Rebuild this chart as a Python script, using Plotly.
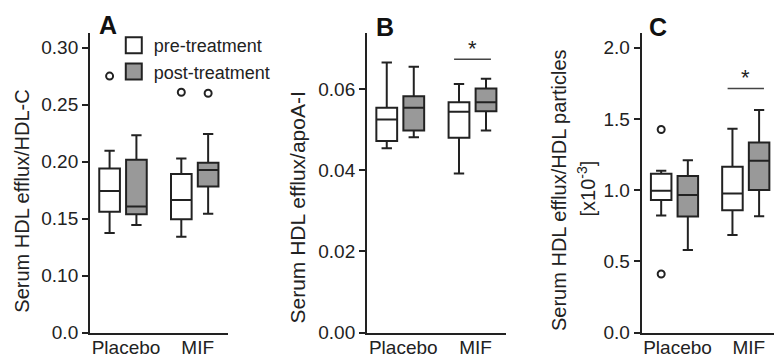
import plotly.graph_objects as go

# ---------------- data ----------------
categories = ["Placebo", "MIF"]
legend_names = ["pre-treatment", "post-treatment"]

# Panel A: Serum HDL efflux/HDL-C
A_pre_low = [0.1374, 0.1342]
A_pre_q1 = [0.1560, 0.1496]
A_pre_med = [0.1742, 0.1665]
A_pre_q3 = [0.1940, 0.1893]
A_pre_high = [0.2095, 0.2027]
A_post_low = [0.1444, 0.1543]
A_post_q1 = [0.1540, 0.1782]
A_post_med = [0.1607, 0.1928]
A_post_q3 = [0.2016, 0.1990]
A_post_high = [0.2232, 0.2243]
A_pre_out_cat = [0, 1]
A_pre_out_val = [0.2751, 0.2609]
A_post_out_cat = [1]
A_post_out_val = [0.2600]
A_tickvals = [0.05, 0.10, 0.15, 0.20, 0.25, 0.30]
A_ticktext = ["0.0", "0.10", "0.15", "0.20", "0.25", "0.30"]

# Panel B: Serum HDL efflux/apoA-I
B_pre_low = [0.0454, 0.0392]
B_pre_q1 = [0.0472, 0.0480]
B_pre_med = [0.0525, 0.0544]
B_pre_q3 = [0.0554, 0.0567]
B_pre_high = [0.0665, 0.0612]
B_post_low = [0.0481, 0.0498]
B_post_q1 = [0.0498, 0.0545]
B_post_med = [0.0554, 0.0567]
B_post_q3 = [0.0582, 0.0601]
B_post_high = [0.0655, 0.0625]
B_tickvals = [0.00, 0.02, 0.04, 0.06]
B_ticktext = ["0.00", "0.02", "0.04", "0.06"]
B_sig_cat = 1
B_sig_y = 0.0673

# Panel C: Serum HDL efflux/HDL particles [x10^-3]
C_pre_low = [0.823, 0.685]
C_pre_q1 = [0.931, 0.860]
C_pre_med = [0.996, 0.977]
C_pre_q3 = [1.115, 1.164]
C_pre_high = [1.136, 1.431]
C_post_low = [0.580, 0.818]
C_post_q1 = [0.816, 1.001]
C_post_med = [0.966, 1.206]
C_post_q3 = [1.099, 1.335]
C_post_high = [1.211, 1.562]
C_pre_out_cat = [0, 0]
C_pre_out_val = [1.426, 0.412]
C_tickvals = [0.0, 0.5, 1.0, 1.5, 2.0]
C_ticktext = ["0.0", "0.5", "1.0", "1.5", "2.0"]
C_sig_cat = 1
C_sig_y = 1.714

# ---------------- style ----------------
FONT = "Liberation Sans, Arial, sans-serif"
INK = "#222222"
GRAY = "#999999"
OFF = 0.187      # half distance between pre/post boxes
BOXW = 0.288     # box width (category units)

fig = go.Figure()


def add_panel(n, pre, post, pre_out=None, post_out=None):
    xa = "x" if n == 1 else f"x{n}"
    ya = "y" if n == 1 else f"y{n}"
    for stats, off, fill in ((pre, -OFF, "white"), (post, OFF, GRAY)):
        low, q1, med, q3, high = stats
        fig.add_trace(go.Box(
            x=[i + off for i in range(len(categories))],
            lowerfence=low, q1=q1, median=med, q3=q3, upperfence=high,
            width=BOXW, whiskerwidth=0.5, boxpoints=False,
            fillcolor=fill, line=dict(color=INK, width=2),
            showlegend=False, hoverinfo="skip", xaxis=xa, yaxis=ya))
    for outs, off in ((pre_out, -OFF), (post_out, OFF)):
        if outs:
            cats, vals = outs
            fig.add_trace(go.Scatter(
                x=[c + off for c in cats], y=vals, mode="markers",
                marker=dict(symbol="circle-open", size=7, color=INK,
                            line=dict(width=2, color=INK)),
                showlegend=False, hoverinfo="skip", xaxis=xa, yaxis=ya))


add_panel(1, (A_pre_low, A_pre_q1, A_pre_med, A_pre_q3, A_pre_high),
          (A_post_low, A_post_q1, A_post_med, A_post_q3, A_post_high),
          (A_pre_out_cat, A_pre_out_val), (A_post_out_cat, A_post_out_val))
add_panel(2, (B_pre_low, B_pre_q1, B_pre_med, B_pre_q3, B_pre_high),
          (B_post_low, B_post_q1, B_post_med, B_post_q3, B_post_high))
add_panel(3, (C_pre_low, C_pre_q1, C_pre_med, C_pre_q3, C_pre_high),
          (C_post_low, C_post_q1, C_post_med, C_post_q3, C_post_high),
          (C_pre_out_cat, C_pre_out_val))

# legend entries
for name, fill in zip(legend_names, ["white", GRAY]):
    fig.add_trace(go.Scatter(
        x=[None], y=[None], mode="markers", name=name,
        marker=dict(symbol="square", size=16, color=fill,
                    line=dict(color=INK, width=2)),
        xaxis="x", yaxis="y"))

YDOM = [0.0733, 0.9072]
xcommon = dict(showline=True, linecolor=INK, linewidth=2, ticks="",
               tickvals=list(range(len(categories))), ticktext=categories,
               tickfont=dict(family=FONT, size=19, color=INK),
               ticklabelstandoff=-3, ticklabelshift=3,
               showgrid=False, zeroline=False, fixedrange=True)
ycommon = dict(showline=True, linecolor=INK, linewidth=2, ticks="outside",
               ticklen=6, tickwidth=2, tickcolor=INK,
               tickfont=dict(family=FONT, size=19, color=INK),
               showgrid=False, zeroline=False, domain=YDOM, fixedrange=True)

fig.update_layout(
    width=774, height=359,
    margin=dict(l=0, r=0, t=0, b=0, autoexpand=False),
    paper_bgcolor="white", plot_bgcolor="white",
    font=dict(family=FONT, color=INK),
    xaxis=dict(xcommon, domain=[0.1163, 0.2942], range=[-0.46, 1.46], anchor="y"),
    xaxis2=dict(xcommon, domain=[0.4742, 0.6534], range=[-0.46, 1.46], anchor="y2"),
    xaxis3=dict(xcommon, domain=[0.8291, 1.0], range=[-0.46, 1.396], anchor="y3"),
    yaxis=dict(ycommon, range=[0.05, 0.3126], tickvals=A_tickvals,
               ticktext=A_ticktext, anchor="x"),
    yaxis2=dict(ycommon, range=[0, 0.0737], tickvals=B_tickvals,
                ticktext=B_ticktext, anchor="x2"),
    yaxis3=dict(ycommon, range=[0, 2.101], tickvals=C_tickvals,
                ticktext=C_ticktext, anchor="x3"),
    showlegend=True,
    legend=dict(x=0.147, y=0.925, xanchor="left", yanchor="top",
                font=dict(family=FONT, size=18, color=INK),
                itemsizing="trace", bgcolor="rgba(0,0,0,0)",
                tracegroupgap=0),
)

# significance bars
for xa, ya, cat, yv in (("x2", "y2", B_sig_cat, B_sig_y), ("x3", "y3", C_sig_cat, C_sig_y)):
    fig.add_shape(type="line", xref=xa, yref=ya, x0=cat - 0.255, x1=cat + 0.255,
                  y0=yv, y1=yv, line=dict(color="#444444", width=1.5))
    fig.add_annotation(xref=xa, yref=ya, x=cat, y=yv, text="*", showarrow=False,
                       yanchor="bottom", yshift=-4,
                       font=dict(family=FONT, size=22, color=INK))

# panel letters and y titles
for txt, px, py in (("A", 107.5, 25), ("B", 385, 26.5), ("C", 657.7, 26.5)):
    fig.add_annotation(xref="paper", yref="paper", x=px / 774, y=1 - py / 359,
                       text=f"<b>{txt}</b>", showarrow=False,
                       xanchor="center", yanchor="middle",
                       font=dict(family=FONT, size=25, color="#111111"))

for txt, px, py, fs in (("Serum HDL efflux/HDL-C", 22, 201.7, 20),
                        ("Serum HDL efflux/apoA-I", 297, 207.5, 21),
                        ("Serum HDL efflux/HDL particles", 559, 190, 20),
                        ("[x10<sup>-3</sup>]", 585.5, 189, 20)):
    fig.add_annotation(xref="paper", yref="paper", x=px / 774, y=1 - py / 359,
                       text=txt, showarrow=False, textangle=-90,
                       xanchor="center", yanchor="middle",
                       font=dict(family=FONT, size=fs, color=INK))

fig.write_html(
    "out.html",
    config={"displayModeBar": False},
    post_script="document.body.style.margin='0px';"
                "document.body.style.overflow='hidden';",
)
